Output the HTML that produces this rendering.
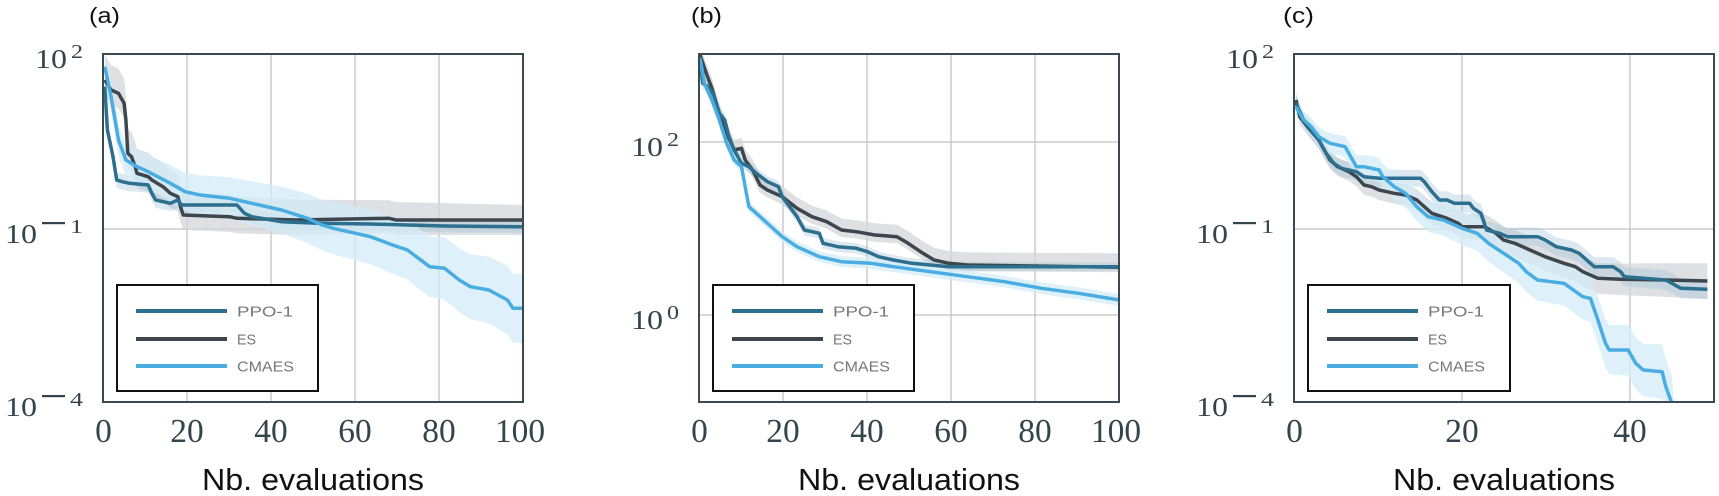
<!DOCTYPE html>
<html><head><meta charset="utf-8"><style>
html,body{margin:0;padding:0;background:#fff;}
svg{display:block;}
.tk{font-family:"Liberation Serif",serif;font-size:34px;fill:#34444c;}
.yt{font-family:"Liberation Serif",serif;font-size:27px;fill:#34444c;}
.sup{font-family:"Liberation Serif",serif;font-size:20px;fill:#34444c;}
.xl{font-family:"Liberation Sans",sans-serif;font-size:31px;fill:#111;}
.pl{font-family:"Liberation Sans",sans-serif;font-size:22px;fill:#111;}
.lg{font-family:"Liberation Sans",sans-serif;font-size:15px;fill:#777;}
</style></head><body>
<svg id="s" width="1719" height="496" xmlns="http://www.w3.org/2000/svg">
<defs>
<clipPath id="ca"><rect x="103" y="54" width="420" height="348"/></clipPath>
<clipPath id="cb"><rect x="699" y="54" width="420" height="348"/></clipPath>
<clipPath id="cc"><rect x="1294" y="54" width="420" height="348"/></clipPath>
</defs>
<g id="root"></g>
</svg>
<script>
const NS="http://www.w3.org/2000/svg";
const root=document.getElementById('root');
function el(t,a,p){const e=document.createElementNS(NS,t);for(const k in a)e.setAttribute(k,a[k]);(p||root).appendChild(e);return e;}
function txt(x,y,cls,s,p,len,anchor){const e=el('text',{x:x,y:y,class:cls},p);if(len){e.setAttribute('textLength',len);e.setAttribute('lengthAdjust','spacingAndGlyphs');}if(anchor)e.setAttribute('text-anchor',anchor);e.textContent=s;return e;}
function ylab(R,gy,exp,p){
 // widths: "10" 32, superscript per char
 let sw = exp==='2'||exp==='0' ? 12 : 42;
 const x0=R-sw-36;
 txt(x0,gy+14,'yt','10',p,32);
 if(exp.length===1){txt(x0+36,gy+4,'sup',exp,p,12);}
 else{el('rect',{x:x0+37,y:gy-7,width:23,height:2.2,fill:'#34444c'},p);txt(x0+65,gy+4,'sup',exp[1],p,13);}
}
const C={ppo:'#2c6f8f',es:'#3d464c',cm:'#49ade2'};
const B={ppo:'#9fc1d3',es:'#d3d6d9',cm:'#d3ecf8'};
function panel(P){
 const g=el('g',{});
 P.gx.forEach(x=>el('line',{x1:x,y1:P.t,x2:x,y2:P.b,stroke:'#c2c2c2','stroke-width':1.3},g));
 P.gy.forEach(y=>el('line',{x1:P.l,y1:y,x2:P.r,y2:y,stroke:'#c2c2c2','stroke-width':1.3},g));
 const cg=el('g',{'clip-path':'url(#'+P.clip+')'},g);
 const tr=pts=>pts.map(p=>[p[0]/P.kx+P.off,p[1]/3]);
 ['es','ppo','cm'].forEach(k=>{
   const pts=tr(P.d[k]);const [u0,u1,d0,d1]=P.band[k];
   const up=[],dn=[];
   pts.forEach(p=>{const t=(p[0]-P.l)/(P.r-P.l);up.push([p[0],p[1]-(u0+(u1-u0)*t)]);dn.push([p[0],p[1]+(d0+(d1-d0)*t)]);});
   const poly=up.concat(dn.reverse());
   el('path',{d:'M'+poly.map(p=>p[0].toFixed(1)+','+p[1].toFixed(1)).join('L')+'Z',fill:B[k],'fill-opacity':k==='ppo'?0.35:0.75},cg);
 });
 ['es','ppo','cm'].forEach(k=>{
   const pts=tr(P.d[k]);
   el('path',{d:'M'+pts.map(p=>p[0].toFixed(1)+','+p[1].toFixed(1)).join('L'),fill:'none',stroke:C[k],'stroke-width':3.5,'stroke-linejoin':'round'},cg);
 });
 el('rect',{x:P.l,y:P.t,width:P.r-P.l,height:P.b-P.t,fill:'none',stroke:'#3b4a51','stroke-width':2},g);
 const L=P.leg;
 el('rect',{x:L.x,y:285,width:L.w,height:106,fill:'#fff',stroke:'#111','stroke-width':2},g);
 [['ppo','PPO-1',311,56],['es','ES',339,19],['cm','CMAES',366,57]].forEach(a=>{
   el('line',{x1:L.x+19,y1:a[2],x2:L.x+110,y2:a[2],stroke:C[a[0]],'stroke-width':4},g);
   txt(L.x+120,a[2]+5.5,'lg',a[1],g,a[3]);
 });
 P.xt.forEach(a=>{const w=a[1].length*16.7;txt(a[0]-w/2,442,'tk',a[1],g,w);});
 txt((P.l+P.r)/2-111,490,'xl',"Nb. evaluations",g,222);
 txt(P.lx,23,'pl',P.name,g,31);
 P.yl.forEach(a=>ylab(P.l-20,a[0],a[1],g));
}
panel({l:103,r:523,t:54,b:402,kx:2.7,off:0,clip:'ca',name:'(a)',lx:89,
 gx:[187,271,355,439],gy:[229],xt:[[103.5,'0'],[187,'20'],[271,'40'],[355,'60'],[439,'80'],[520,'100']],
 yl:[[54,'2'],[229,'-1'],[402,'-4']],leg:{x:117,w:201},
 band:{ppo:[8,6,8,6],es:[25,15,15,15],cm:[15,35,15,35]},
 d:{ppo:[[283,260],[290,390],[305,470],[315,540],[330,545],[350,550],[400,555],[410,580],[420,600],[460,610],[480,600],[490,615],[640,615],[660,640],[680,650],[760,665],[860,670],[1000,672],[1200,678],[1413,680]],
 es:[[283,240],[300,270],[320,280],[335,310],[340,360],[345,460],[355,470],[365,500],[370,520],[400,530],[410,540],[440,560],[460,580],[480,590],[490,630],[495,645],[620,650],[640,655],[800,660],[1050,655],[1070,660],[1413,660]],
 cm:[[283,200],[300,290],[320,420],[340,480],[370,500],[400,515],[460,550],[500,575],[540,585],[620,595],[700,615],[760,630],[830,655],[870,675],[900,685],[960,700],[1000,710],[1060,735],[1100,750],[1130,775],[1160,800],[1200,805],[1240,840],[1270,860],[1320,870],[1370,900],[1385,925],[1413,925]]}});
panel({l:699,r:1119,t:54,b:402,kx:2.7,off:560,clip:'cb',name:'(b)',lx:691,
 gx:[783,867,951,1035],gy:[142,315],xt:[[699.5,'0'],[783,'20'],[867,'40'],[951,'60'],[1035,'80'],[1116,'100']],
 yl:[[142,'2'],[315,'0']],leg:{x:713,w:201},
 band:{ppo:[6,4,6,4],es:[10,14,8,5],cm:[5,6,5,6]},
 d:{ppo:[[378,170],[385,250],[400,260],[415,285],[430,340],[445,360],[455,405],[470,450],[490,490],[510,500],[530,520],[560,545],[590,560],[600,590],[620,620],[640,650],[660,690],[700,700],[710,730],[750,740],[800,745],[830,755],[860,770],[900,780],[950,790],[1050,800],[1510,800]],
 es:[[378,165],[395,220],[410,265],[430,340],[450,400],[470,450],[490,445],[500,480],[520,510],[540,555],[560,570],[600,590],[640,625],[680,650],[720,665],[760,690],[800,695],[850,705],[910,710],[940,730],[980,760],[1010,780],[1050,790],[1100,795],[1510,802]],
 cm:[[378,175],[390,250],[410,300],[430,360],[450,430],[470,480],[490,500],[510,620],[530,640],[550,660],[580,690],[600,710],[640,740],[700,770],[760,785],[840,790],[900,800],[1000,815],[1100,830],[1200,845],[1300,865],[1400,880],[1510,900]]}});
panel({l:1294,r:1714,t:54,b:402,kx:2.65,off:1130,clip:'cc',name:'(c)',lx:1283,
 gx:[1462,1630],gy:[229],xt:[[1294.5,'0'],[1462,'20'],[1630,'40']],
 yl:[[54,'2'],[229,'-1'],[402,'-4']],leg:{x:1308,w:202},
 band:{ppo:[8,10,8,10],es:[8,18,8,18],cm:[8,30,8,30]},
 d:{ppo:[[440,310],[460,360],[480,390],[500,420],[520,460],[540,490],[560,505],[600,515],[620,530],[660,535],[770,535],[780,545],[800,575],[820,600],[840,600],[860,610],[900,610],[910,625],[930,640],[945,690],[980,700],[1000,710],[1080,710],[1100,720],[1130,740],[1170,750],[1190,760],[1220,790],[1230,800],[1280,800],[1300,815],[1310,830],[1420,840],[1460,865],[1530,868]],
 es:[[440,300],[450,350],[470,380],[500,420],[530,480],[550,500],[580,515],[600,530],[620,555],[640,560],[660,570],[700,580],[730,585],[760,600],[780,620],[800,640],[840,655],[870,670],[880,680],[940,680],[970,700],[990,720],[1020,730],[1060,750],[1100,770],[1150,790],[1180,800],[1200,815],[1240,835],[1300,838],[1420,840],[1530,843]],
 cm:[[440,320],[460,360],[480,380],[500,410],[530,430],[570,440],[585,470],[600,500],[620,500],[660,510],[670,530],[700,560],[730,580],[760,620],[790,650],[830,660],[880,685],[920,700],[950,730],[990,760],[1030,790],[1050,815],[1080,840],[1150,850],[1200,890],[1220,895],[1240,960],[1260,1030],[1270,1050],[1320,1050],[1340,1090],[1360,1110],[1410,1115],[1420,1160],[1435,1207],[1440,1260]]}});
</script>
</body></html>
